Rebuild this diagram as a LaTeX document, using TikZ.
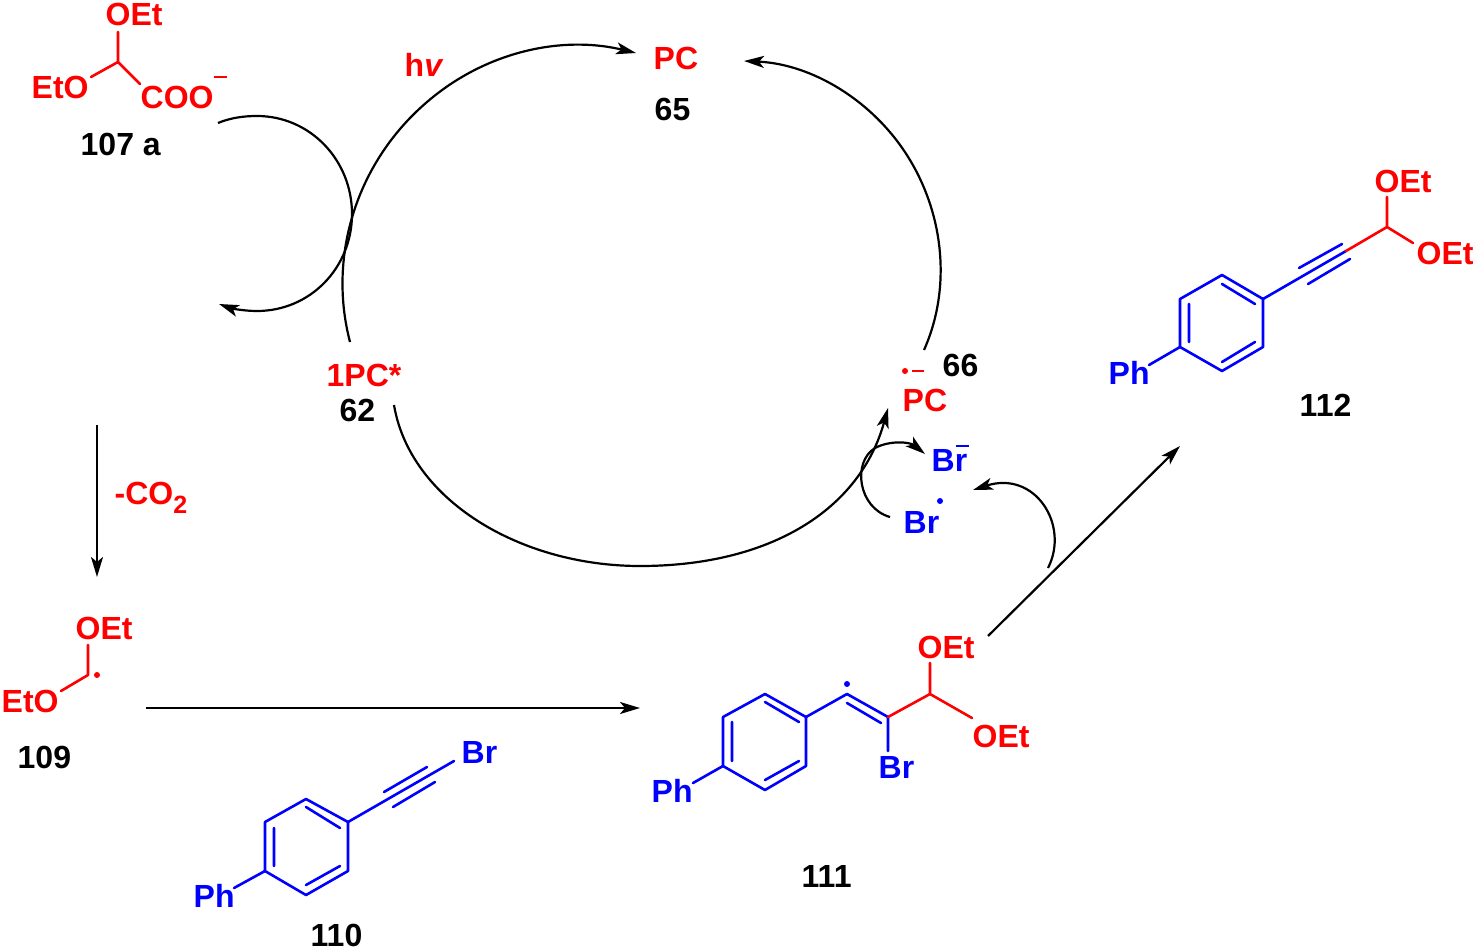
\documentclass[tikz,border=0pt]{standalone}
\usepackage{fontspec}
\setmainfont{Liberation Sans}
\usetikzlibrary{arrows.meta}
\definecolor{chemred}{RGB}{255,0,0}
\definecolor{chemblue}{RGB}{0,0,255}
\tikzset{
  lab/.style={anchor=base west,inner sep=0pt,xshift=-0.5pt,font=\fontsize{32}{32}\selectfont\bfseries},
  redlab/.style={lab,text=chemred},
  bluelab/.style={lab,text=chemblue},
  blacklab/.style={lab,text=black},
  redbond/.style={draw=chemred,line width=2.6pt,line cap=round,line join=round},
  bluebond/.style={draw=chemblue,line width=2.6pt,line cap=round,line join=round},
  arr/.style={draw=black,line width=2.2pt,-{Stealth[length=20pt,width=12pt,inset=5pt]}},
  reddot/.style={fill=chemred,draw=none},
  bluedot/.style={fill=chemblue,draw=none}
}
\begin{document}
\begin{tikzpicture}[x=1pt,y=-1pt]
\useasboundingbox (0,0) rectangle (1477,950);
\fill[white] (0,0) rectangle (1477,950);

% ---------- compound 107a
\node[redlab] (aOEt) at (106,26) {OEt};
\node[redlab] (aEtO) at (32,98) {EtO};
\node[redlab] (aCOO) at (141,108) {COO};
\node[blacklab] (aNum) at (81,155) {107 a};
\coordinate (aC) at (118,62);
\coordinate (aO1) at (118,32);
\coordinate (aO2) at (91,77);
\coordinate (aO3) at (140,84);
\draw[redbond] (aO1) -- (aC) -- (aO2) (aC) -- (aO3);
\coordinate (aM1) at (214,77);
\coordinate (aM2) at (227,77);
\draw[draw=chemred,line width=1.5pt] (aM1) -- (aM2);

% ---------- catalytic cycle labels
\node[redlab] (hv) at (405,76) {h\textit{v}};
\node[redlab] (pc) at (654,70) {PC};
\node[blacklab] (n65) at (655,120) {65};
\node[redlab] (pcs) at (327,386) {1PC*};
\node[blacklab] (n62) at (340,421) {62};
\node[redlab] (pcr) at (903,411) {PC};
\node[blacklab] (n66) at (943,376) {66};
\fill[reddot] (905,371) circle (3);
\coordinate (rM1) at (912,371);
\coordinate (rM2) at (924,371);
\draw[draw=chemred,line width=1.5pt] (rM1) -- (rM2);

\node[bluelab] (brm) at (932,471) {Br};
\coordinate (bM1) at (956,446);
\coordinate (bM2) at (969,446);
\draw[draw=chemblue,line width=1.5pt] (bM1) -- (bM2);
\node[bluelab] (brr) at (904,533) {Br};
\fill[bluedot] (940,501) circle (3);

% ---------- cycle arcs
\coordinate (sPCs) at (350,342);
\coordinate (mL1) at (427,102);
\coordinate (ePC) at (636,53);
\draw[arr] (sPCs) .. controls (327,254) and (358,161) .. (mL1)
   .. controls (485,52) and (561,35) .. (ePC);
\coordinate (sR) at (924,350);
\coordinate (mR1) at (908.5,157.6);
\coordinate (ePCb) at (744,61);
\draw[arr] (sR) .. controls (951.5,288.3) and (944,215) .. (mR1)
   .. controls (873,100.2) and (811.4,64) .. (ePCb);
\coordinate (sB) at (394,405);
\coordinate (mB) at (640,566);
\coordinate (eB) at (888,408);
\draw[arr] (sB) .. controls (410,500) and (520,566) .. (mB)
   .. controls (770,566) and (860,510) .. (eB);

% ---------- small arcs
\coordinate (sA) at (218,123);
\coordinate (tA) at (257,116);
\coordinate (mA) at (352,214);
\coordinate (bA) at (257,311);
\coordinate (eA) at (219,304);
\draw[arr] (sA) .. controls (230,118) and (243,116) .. (tA)
   .. controls (310,116) and (352,160) .. (mA)
   .. controls (352,268) and (310,311) .. (bA)
   .. controls (243,311) and (230,308) .. (eA);
\coordinate (sBr) at (890,517);
\coordinate (mBr) at (875,448);
\coordinate (eBr) at (925,454);
\draw[arr] (sBr) .. controls (858,508) and (852,462) .. (mBr)
   .. controls (890,440) and (910,442) .. (eBr);
\coordinate (sBr2) at (1048,568);
\coordinate (eBr2) at (973,490);
\draw[arr] (sBr2) .. controls (1070,525) and (1035,470) .. (eBr2);

% ---------- straight arrows
\node[redlab] (co2) at (115,504) {-CO\raisebox{-9pt}{\fontsize{25}{25}\selectfont 2}};
\coordinate (s1) at (97,425);
\coordinate (e1) at (97,577);
\draw[arr] (s1) -- (e1);
\coordinate (s2) at (146,708);
\coordinate (e2) at (640,708);
\draw[arr] (s2) -- (e2);
\coordinate (s3) at (988,636);
\coordinate (e3) at (1180,446);
\draw[arr] (s3) -- (e3);

% ---------- compound 109
\node[redlab] (bOEt) at (76,639) {OEt};
\node[redlab] (bEtO) at (2,712) {EtO};
\node[blacklab] (bNum) at (18,768) {109};
\coordinate (bC) at (88,675);
\coordinate (bO1) at (88,645);
\coordinate (bO2) at (61,691);
\draw[redbond] (bO1) -- (bC) -- (bO2);
\fill[reddot] (97,675) circle (3);

% ---------- compound 110
\node[bluelab] (cPh) at (194,907) {Ph};
\node[bluelab] (cBr) at (462,763) {Br};
\node[blacklab] (cNum) at (311,946) {110};
\coordinate (c1) at (306,799);
\coordinate (c2) at (348,822);
\coordinate (c3) at (348,871);
\coordinate (c4) at (306,895);
\coordinate (c5) at (265,871);
\coordinate (c6) at (265,822);
\draw[bluebond] (c1) -- (c2) -- (c3) -- (c4) -- (c5) -- (c6) -- cycle;
\coordinate (ci1) at (306,807);
\coordinate (ci2) at (340,828);
\coordinate (ci3) at (340,866);
\coordinate (ci4) at (306,885);
\coordinate (ci5) at (274,866);
\coordinate (ci6) at (274,828);
\draw[bluebond] (ci1) -- (ci2) (ci3) -- (ci4) (ci5) -- (ci6);
\coordinate (cB) at (454,761);
\draw[bluebond] (c2) -- (cB);
\coordinate (ct1) at (384,792);
\coordinate (ct2) at (427,767);
\coordinate (ct3) at (393,807);
\coordinate (ct4) at (435,782);
\draw[bluebond] (ct1) -- (ct2) (ct3) -- (ct4);
\coordinate (cP) at (234,888);
\draw[bluebond] (c5) -- (cP);

% ---------- compound 111
\node[bluelab] (dPh) at (652,802) {Ph};
\node[bluelab] (dBr) at (879,778) {Br};
\node[redlab] (dO1) at (918,658) {OEt};
\node[redlab] (dO2) at (973,747) {OEt};
\node[blacklab] (dNum) at (802,887) {111};
\coordinate (d1) at (765,694);
\coordinate (d2) at (806,717);
\coordinate (d3) at (806,766);
\coordinate (d4) at (765,790);
\coordinate (d5) at (723,766);
\coordinate (d6) at (723,717);
\draw[bluebond] (d1) -- (d2) -- (d3) -- (d4) -- (d5) -- (d6) -- cycle;
\coordinate (di1) at (765,702);
\coordinate (di2) at (799,722);
\coordinate (di3) at (799,761);
\coordinate (di4) at (765,780);
\coordinate (di5) at (732,761);
\coordinate (di6) at (732,722);
\draw[bluebond] (di1) -- (di2) (di3) -- (di4) (di5) -- (di6);
\coordinate (dv1) at (847,694);
\coordinate (dv2) at (888,717);
\coordinate (dv3) at (888,751);
\coordinate (dw1) at (847,703);
\coordinate (dw2) at (881,723);
\draw[bluebond] (d2) -- (dv1) -- (dv2) -- (dv3) (dw1) -- (dw2);
\coordinate (dP) at (693,783);
\draw[bluebond] (d5) -- (dP);
\coordinate (dC) at (930,694);
\coordinate (dC1) at (930,663);
\coordinate (dC2) at (972,718);
\draw[redbond] (dv2) -- (dC) -- (dC1) (dC) -- (dC2);
\fill[bluedot] (847,684) circle (3);

% ---------- compound 112
\node[bluelab] (ePh) at (1109,384) {Ph};
\node[redlab] (eO1) at (1375,192) {OEt};
\node[redlab] (eO2) at (1417,264) {OEt};
\node[blacklab] (eNum) at (1300,416) {112};
\coordinate (r1) at (1222,275);
\coordinate (r2) at (1263,299);
\coordinate (r3) at (1263,347);
\coordinate (r4) at (1222,371);
\coordinate (r5) at (1180,347);
\coordinate (r6) at (1180,299);
\draw[bluebond] (r1) -- (r2) -- (r3) -- (r4) -- (r5) -- (r6) -- cycle;
\coordinate (ri1) at (1222,284);
\coordinate (ri2) at (1255,304);
\coordinate (ri3) at (1255,342);
\coordinate (ri4) at (1222,362);
\coordinate (ri5) at (1189,342);
\coordinate (ri6) at (1189,304);
\draw[bluebond] (ri1) -- (ri2) (ri3) -- (ri4) (ri5) -- (ri6);
\coordinate (rT) at (1346,251);
\draw[bluebond] (r2) -- (rT);
\coordinate (rt1) at (1299,268);
\coordinate (rt2) at (1342,244);
\coordinate (rt3) at (1308,284);
\coordinate (rt4) at (1350,259);
\draw[bluebond] (rt1) -- (rt2) (rt3) -- (rt4);
\coordinate (rP) at (1149,365);
\draw[bluebond] (r5) -- (rP);
\coordinate (rC) at (1387,227);
\coordinate (rC1) at (1387,197);
\coordinate (rC2) at (1413,243);
\draw[redbond] (rT) -- (rC) -- (rC1) (rC) -- (rC2);
\end{tikzpicture}
\end{document}
